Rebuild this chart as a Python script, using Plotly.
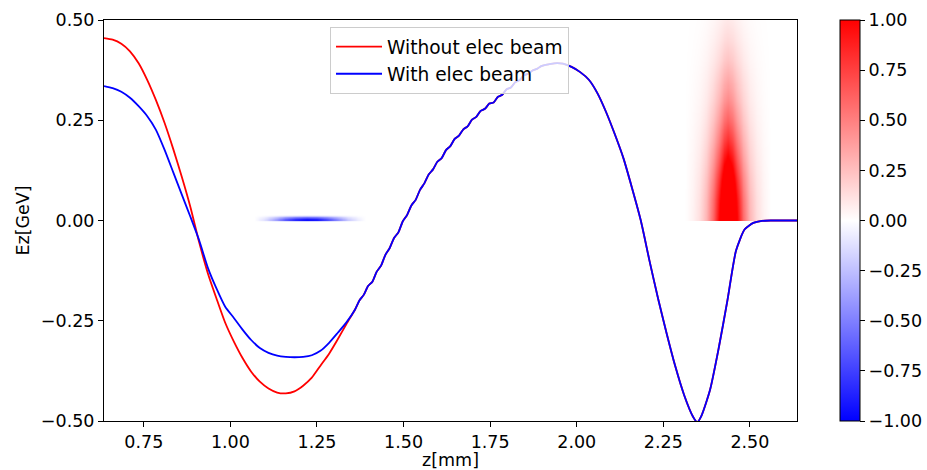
import numpy as np
import plotly.graph_objects as go

# ---------------- data ----------------
z_mm = [0.635, 0.660, 0.685, 0.710, 0.735, 0.760, 0.785, 0.810, 0.835, 0.860,
        0.885, 0.910, 0.935, 0.960, 0.985, 1.010, 1.035, 1.060, 1.085, 1.110,
        1.135, 1.160, 1.185, 1.210, 1.235, 1.260, 1.285, 1.310, 1.335, 1.360,
        1.3725, 1.385, 1.3975, 1.410, 1.4225, 1.435, 1.4475, 1.460, 1.4725, 1.485,
        1.4975, 1.510, 1.5225, 1.535, 1.5475, 1.560, 1.5725, 1.585, 1.5975, 1.610,
        1.6225, 1.635, 1.6475, 1.660, 1.6725, 1.685, 1.6975, 1.710, 1.7225, 1.735,
        1.7475, 1.760, 1.7725, 1.785, 1.7975, 1.810, 1.8225, 1.835, 1.8475, 1.860,
        1.8725, 1.885, 1.8975, 1.910, 1.935, 1.960, 1.985, 2.010, 2.035, 2.060,
        2.085, 2.110, 2.135, 2.160, 2.185, 2.210, 2.235, 2.260, 2.285, 2.310,
        2.335, 2.348, 2.360, 2.385, 2.410, 2.435, 2.460, 2.485, 2.510, 2.535,
        2.560, 2.585, 2.610, 2.636]

ez_common_tail = [
    -0.222,
    -0.1995, -0.1855, -0.1635, -0.1525, -0.1275, -0.1125, -0.0855, -0.0685, -0.0435, -0.0295,
    -0.0025, 0.0135, 0.0375, 0.0515, 0.0765, 0.0925, 0.1145, 0.1275, 0.1465, 0.1555,
    0.1755, 0.1855, 0.2035, 0.2115, 0.2275, 0.2345, 0.2515, 0.2585, 0.2735, 0.2785,
    0.2915, 0.2945, 0.3085, 0.3135, 0.3275, 0.3315, 0.345, 0.350, 0.362, 0.366,
    0.374, 0.378, 0.385, 0.388, 0.392, 0.391, 0.383, 0.370, 0.351, 0.317,
    0.270, 0.215, 0.155, 0.080, 0.000, -0.100, -0.195, -0.283, -0.365, -0.435,
    -0.488, -0.503, -0.487, -0.422, -0.318, -0.200, -0.075, -0.022, -0.006, -0.001,
    0.0, 0.0, 0.0, 0.0]

ez_without = [0.455, 0.451, 0.441, 0.422, 0.392, 0.350, 0.300, 0.243, 0.178, 0.108,
              0.032, -0.055, -0.132, -0.195, -0.255, -0.302, -0.343, -0.377, -0.402, -0.419,
              -0.429, -0.431, -0.426, -0.412, -0.392, -0.362, -0.332, -0.296, -0.258] + ez_common_tail

ez_with = [0.335, 0.330, 0.321, 0.306, 0.285, 0.260, 0.226, 0.176, 0.120, 0.064,
           0.008, -0.050, -0.118, -0.170, -0.215, -0.243, -0.272, -0.298, -0.318, -0.330,
           -0.337, -0.340, -0.341, -0.340, -0.336, -0.325, -0.305, -0.280, -0.254] + ez_common_tail

# driver (red) beam density: longitudinal and radial profiles
drv_z = [2.315, 2.335, 2.355, 2.375, 2.395, 2.412, 2.425, 2.437, 2.450, 2.463, 2.480, 2.500, 2.520, 2.540, 2.560]
drv_long = [0.0, 0.03, 0.08, 0.18, 0.38, 0.63, 0.88, 1.0, 0.88, 0.63, 0.38, 0.18, 0.08, 0.03, 0.0]
drv_r = [0.0, 0.05, 0.10, 0.15, 0.20, 0.25, 0.30, 0.35, 0.40, 0.45, 0.50]
drv_rad = [1.6, 1.5, 1.3, 1.05, 0.82, 0.62, 0.46, 0.34, 0.23, 0.15, 0.09]

# electron (blue) beam density: longitudinal and radial profiles
eb_z = [1.07, 1.10, 1.13, 1.16, 1.19, 1.22, 1.25, 1.28, 1.31, 1.34, 1.37, 1.39]
eb_long = [0.0, 0.12, 0.35, 0.65, 0.85, 0.95, 0.90, 0.70, 0.45, 0.20, 0.06, 0.0]
eb_r = [0.0, 0.003, 0.006, 0.009, 0.012, 0.015]
eb_rad = [-1.0, -1.0, -0.8, -0.45, -0.15, 0.0]

x_ticks = [0.75, 1.00, 1.25, 1.50, 1.75, 2.00, 2.25, 2.50]
y_ticks = [-0.50, -0.25, 0.00, 0.25, 0.50]
cb_ticks = [-1.00, -0.75, -0.50, -0.25, 0.00, 0.25, 0.50, 0.75, 1.00]


def fmt(v):
    s = f"{v:.2f}"
    return s.replace("-", "\u2212")


def density(zp, lp, rp, rv, nz, nr):
    zg = np.linspace(zp[0], zp[-1], nz)
    rg = np.linspace(rp[0], rp[-1], nr)
    d = np.outer(np.interp(rg, rp, rv), np.interp(zg, zp, lp))
    return zg, rg, d


FONT = "DejaVu Sans"
FS = 17.5
FS_LEG = 18.6

fig = go.Figure()

zg, rg, d = density(drv_z, drv_long, drv_r, drv_rad, 260, 200)
fig.add_trace(go.Heatmap(x=zg, y=rg, z=d, coloraxis="coloraxis", zsmooth="best",
                         hoverinfo="skip", showscale=False))
zg, rg, d = density(eb_z, eb_long, eb_r, eb_rad, 200, 11)
fig.add_trace(go.Heatmap(x=zg, y=rg, z=d, coloraxis="coloraxis", zsmooth="best",
                         hoverinfo="skip", showscale=False))

fig.add_trace(go.Scatter(x=z_mm, y=ez_without, mode="lines", name="Without elec beam",
                         line=dict(color="#ff0000", width=1.8, shape="spline", smoothing=0.6)))
fig.add_trace(go.Scatter(x=z_mm, y=ez_with, mode="lines", name="With elec beam",
                         line=dict(color="#0000ff", width=1.8, shape="spline", smoothing=0.6)))

axis_common = dict(showgrid=False, zeroline=False, showline=True, linecolor="black",
                   linewidth=1, mirror=True, ticks="outside", ticklen=5, tickwidth=1,
                   tickcolor="black", automargin=False,
                   tickfont=dict(family=FONT, size=FS, color="black"))

fig.update_layout(
    width=927, height=470,
    margin=dict(l=104, r=130, t=20, b=49, autoexpand=False),
    paper_bgcolor="white", plot_bgcolor="white",
    font=dict(family=FONT, size=FS, color="black"),
    xaxis=dict(range=[0.635, 2.636], tickvals=x_ticks, ticktext=[fmt(v) for v in x_ticks],
               title=dict(text="z[mm]", standoff=6, font=dict(family=FONT, size=FS)),
               **axis_common),
    yaxis=dict(range=[-0.5, 0.5], tickvals=y_ticks, ticktext=[fmt(v) for v in y_ticks],
               title=dict(text="Ez[GeV]", standoff=6, font=dict(family=FONT, size=FS)),
               **axis_common),
    coloraxis=dict(
        cmin=-1, cmax=1,
        colorscale=[[0.0, "rgb(0,0,255)"], [0.5, "rgb(255,255,255)"], [1.0, "rgb(255,0,0)"]],
        colorbar=dict(x=(840 - 104) / 693, xanchor="left", xpad=0, ypad=0,
                      y=0.5, yanchor="middle", len=1, lenmode="fraction",
                      thickness=20, thicknessmode="pixels",
                      outlinecolor="black", outlinewidth=1,
                      ticks="outside", ticklen=5, tickwidth=1, tickcolor="black",
                      tickvals=cb_ticks, ticktext=[fmt(v) for v in cb_ticks],
                      tickfont=dict(family=FONT, size=FS, color="black")),
    ),
    legend=dict(x=(330 - 104) / 693, y=(421 - 27) / 401, xanchor="left", yanchor="top",
                bgcolor="rgba(255,255,255,0.8)", bordercolor="#cccccc", borderwidth=1,
                itemwidth=46,
                font=dict(family=FONT, size=FS_LEG, color="black")),
    showlegend=True,
)

fig.write_html("out.html")
